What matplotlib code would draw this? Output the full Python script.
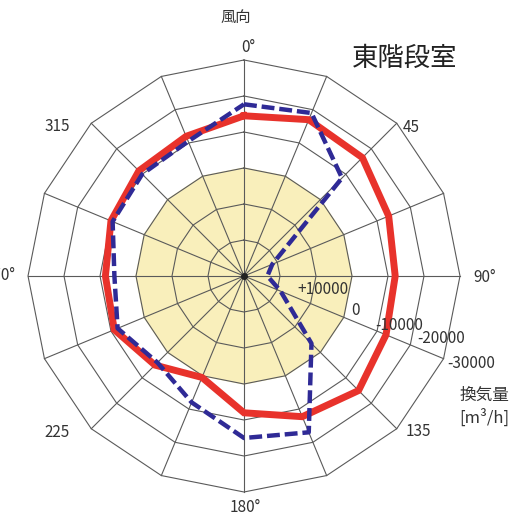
import numpy as np
import matplotlib
matplotlib.use("Agg")
import matplotlib.pyplot as plt

plt.rcParams['font.family'] = ['Noto Sans CJK JP', 'DejaVu Sans']

# wind direction (deg, clockwise from north)
directions = [0, 22.5, 45, 67.5, 90, 112.5, 135, 157.5,
              180, 202.5, 225, 247.5, 270, 292.5, 315, 337.5]
# ventilation rate [m3/h], two series
red_vals = [-14500, -17000, -16500, -13500, -12000, -12700, -15000, -12300,
            -8000, -500, -5000, -9000, -8500, -10000, -11300, -12000]
blue_vals = [-17700, -19000, -8500, 21500, 23500, 19000, 3500, -17000,
             -15000, -8000, -4000, -8000, -6000, -9500, -10000, -10500]

ring_vals = [20000, 10000, 0, -10000, -20000, -30000]
ring_labels = ["+10000", "0", "-10000", "-20000", "-30000"]
dir_labels = ["0°", "45", "90°", "135", "180°", "225", "270°", "315"]

W, H = 531, 519
fig = plt.figure(figsize=(W / 100, H / 100), dpi=100)
cx, cy, R = 244, 276, 216
ax = fig.add_axes([(cx - R) / W, (H - cy - R) / H, 2 * R / W, 2 * R / H],
                  projection='polar')
ax.set_theta_zero_location('N')
ax.set_theta_direction(-1)
ax.set_rlim(30000, -30000)
ax.grid(False)
ax.set_xticks([])
ax.set_yticks([])
ax.spines['polar'].set_visible(False)
ax.patch.set_visible(False)

th = np.deg2rad(directions)
th_closed = np.append(th, th[0])

# yellow zone (positive side)
ax.fill(th, [0] * len(th), color='#f9efbb', zorder=1)

gc = '#5a5a5a'
for rv in ring_vals:
    ax.plot(th_closed, [rv] * len(th_closed), color=gc, lw=0.8, zorder=2, clip_on=False)
for t in th:
    ax.plot([t, t], [30000, -30000], color=gc, lw=0.8, zorder=2, clip_on=False)

ax.plot(th_closed, np.append(red_vals, red_vals[0]), color='#e8322b', lw=5,
        solid_joinstyle='miter', zorder=3, clip_on=False)
ax.plot(th_closed, np.append(blue_vals, blue_vals[0]), color='#2f2a96', lw=3.2,
        linestyle=(0, (2.9, 1.1)), zorder=4, clip_on=False)
ax.plot([0], [30000], 'o', color='#222222', ms=4, zorder=5)

# ring labels along 112.5 deg
lab_t = np.deg2rad(112.5)
offs = [(-13, 14), (7, 7), (-2, 6), (7, 6), (4, -5)]
for rv, lab, (dx, dy) in zip(ring_vals[1:], ring_labels, offs):
    ax.annotate(lab, xy=(lab_t, rv), xytext=(dx, dy), textcoords='offset pixels',
                ha='left', va='center', fontsize=11, color='#333333')

# direction labels
dir_offs = [(4, 12, 'center'), (15, -4, 'center'), (25, -2, 'center'),
            (22, -3, 'center'), (1, -16, 'center'), (-34, -4, 'center'),
            (-13, 0, 'right'), (-34, -3, 'center')]
for i, (lab, (dx, dy, ha)) in enumerate(zip(dir_labels, dir_offs)):
    ax.annotate(lab, xy=(np.deg2rad(45 * i), -30000), xytext=(dx, dy),
                textcoords='offset pixels', ha=ha, va='center',
                fontsize=11, color='#333333')

fig.text(236 / W, 1 - 17 / H, "風向", ha='center', va='center', fontsize=11, color='#333333')
fig.text(405 / W, 1 - 58 / H, "東階段室", ha='center', va='center', fontsize=19, color='#222222')
fig.text(484 / W, 1 - 395 / H, "換気量", ha='center', va='center', fontsize=12, color='#333333')
fig.text(484 / W, 1 - 418 / H, "[m³/h]", ha='center', va='center', fontsize=12, color='#333333')

fig.savefig("out.png", dpi=100)
